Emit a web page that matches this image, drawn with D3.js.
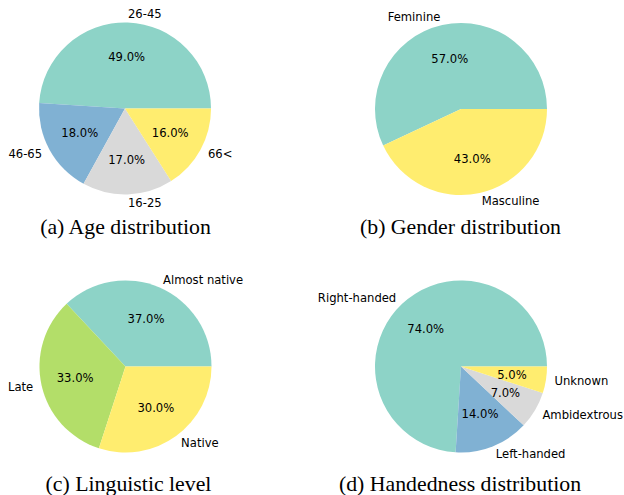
<!DOCTYPE html>
<html>
<head>
<meta charset="utf-8">
<script src="https://cdn.jsdelivr.net/npm/d3@7"></script>
<style>
  body { margin: 0; background: #fff; }
  svg { display: block; }
  .lbl { font-family: "DejaVu Sans", sans-serif; font-size: 11.6px; fill: #000; }
  .cap { font-family: "Liberation Serif", "Times New Roman", serif; font-size: 21.8px; fill: #000; }
</style>
</head>
<body>
<svg id="fig" width="624" height="495"></svg>
<script>
// Data for each panel
const ageLabels = ['26-45', '46-65', '16-25', '66<'];
const ageValues = [49, 18, 17, 16];

const genderLabels = ['Feminine', 'Masculine'];
const genderValues = [57, 43];

const lingLabels = ['Almost native', 'Late', 'Native'];
const lingValues = [37, 33, 30];

const handLabels = ['Right-handed', 'Left-handed', 'Ambidextrous', 'Unknown'];
const handValues = [74, 14, 7, 5];

const captions = [
  '(a) Age distribution',
  '(b) Gender distribution',
  '(c) Linguistic level',
  '(d) Handedness distribution',
];

// Panel layout
const panels = [
  { labels: ageLabels, values: ageValues, cx: 125, cy: 108.5, capX: 125.5, capY: 234 },
  { labels: genderLabels, values: genderValues, cx: 461, cy: 109, capX: 460.5, capY: 234 },
  { labels: lingLabels, values: lingValues, cx: 125.5, cy: 366.5, capX: 128.5, capY: 491 },
  { labels: handLabels, values: handValues, cx: 461, cy: 366.5, capX: 460, capY: 491 },
];

const R = 86;
const svg = d3.select('#fig');

// Sample the Set3 palette evenly, like a listed colormap
const sampleColors = (n) => d3.range(n).map((i) => {
  const t = n === 1 ? 0 : i / (n - 1);
  const idx = Math.min(11, Math.floor(t * 12));
  return d3.schemeSet3[idx];
});

// Counterclockwise from 3 o'clock
const pie = d3.pie().sort(null).startAngle(Math.PI / 2).endAngle(Math.PI / 2 - 2 * Math.PI);
const arc = d3.arc().innerRadius(0).outerRadius(R);
const pctArc = d3.arc().innerRadius(R * 0.6).outerRadius(R * 0.6);
const lblArc = d3.arc().innerRadius(R * 1.1).outerRadius(R * 1.1);

panels.forEach((p, k) => {
  const colors = sampleColors(p.values.length);
  const total = d3.sum(p.values);
  const arcs = pie(p.values);
  const g = svg.append('g').attr('transform', `translate(${p.cx},${p.cy})`);

  g.selectAll('path.slice')
    .data(arcs)
    .join('path')
    .attr('class', 'slice')
    .attr('d', arc)
    .attr('fill', (d, i) => colors[i]);

  g.selectAll('text.pct')
    .data(arcs)
    .join('text')
    .attr('class', 'lbl pct')
    .attr('transform', (d) => `translate(${pctArc.centroid(d)})`)
    .attr('text-anchor', 'middle')
    .attr('dominant-baseline', 'central')
    .text((d) => `${(100 * d.value / total).toFixed(1)}%`);

  g.selectAll('text.name')
    .data(arcs)
    .join('text')
    .attr('class', 'lbl name')
    .attr('transform', (d) => `translate(${lblArc.centroid(d)})`)
    .attr('text-anchor', (d) => (lblArc.centroid(d)[0] > 0 ? 'start' : 'end'))
    .attr('dominant-baseline', 'central')
    .text((d, i) => p.labels[i]);

  svg.append('text')
    .attr('class', 'cap')
    .attr('x', p.capX)
    .attr('y', p.capY)
    .attr('text-anchor', 'middle')
    .text(captions[k]);
});
</script>
</body>
</html>
